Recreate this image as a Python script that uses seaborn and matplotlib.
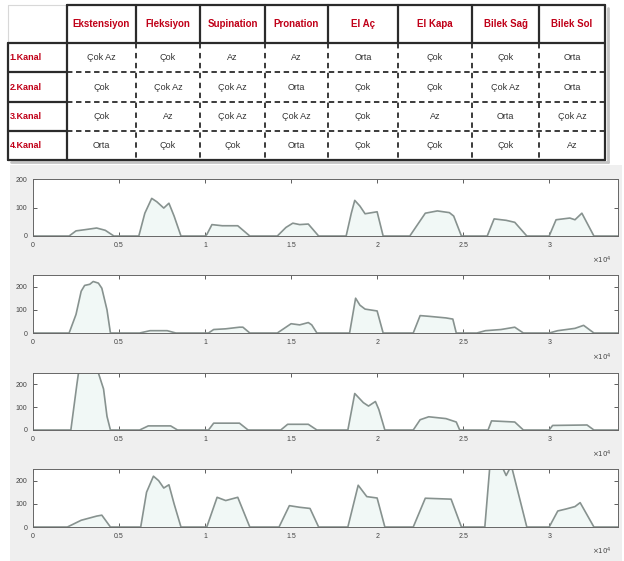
import numpy as np
import pandas as pd
import seaborn as sns
import matplotlib.pyplot as plt
from matplotlib.patches import Rectangle

# ---- table contents ----
movements = ["Ekstensiyon", "Fleksiyon", "Supination", "Pronation",
             "El Aç", "El Kapa", "Bilek Sağ", "Bilek Sol"]
channels = ["1.Kanal", "2.Kanal", "3.Kanal", "4.Kanal"]
levels_ch1 = ["Çok Az", "Çok", "Az", "Az", "Orta", "Çok", "Çok", "Orta"]
levels_ch2 = ["Çok", "Çok Az", "Çok Az", "Orta", "Çok", "Çok", "Çok Az", "Orta"]
levels_ch3 = ["Çok", "Az", "Çok Az", "Çok Az", "Çok", "Az", "Orta", "Çok Az"]
levels_ch4 = ["Orta", "Çok", "Çok", "Orta", "Çok", "Çok", "Çok", "Az"]

# ---- signal envelopes (time in units of 1e4 samples) ----
t_ch1 = [0, 0.21, 0.25, 0.30, 0.37, 0.42, 0.47,
         0.615, 0.65, 0.69, 0.72, 0.76, 0.79, 0.82, 0.86,
         1.0, 1.01, 1.04, 1.10, 1.19, 1.26,
         1.42, 1.47, 1.51, 1.55, 1.60, 1.66,
         1.82, 1.85, 1.87, 1.90, 1.93, 2.0, 2.035,
         2.19, 2.28, 2.35, 2.42, 2.445, 2.49,
         2.64, 2.68, 2.75, 2.80, 2.87,
         3.0, 3.04, 3.12, 3.15, 3.19, 3.26, 3.4]
v_ch1 = [0, 0, 18, 22, 28, 20, 0,
         0, 80, 132, 120, 98, 115, 70, 0,
         0, 5, 40, 36, 36, 0,
         0, 30, 45, 40, 42, 0,
         0, 80, 125, 105, 78, 85, 0,
         0, 80, 88, 82, 70, 0,
         0, 60, 55, 48, 0,
         0, 57, 63, 57, 80, 0, 0]

t_ch2 = [0, 0.21, 0.25, 0.28, 0.30, 0.33, 0.35, 0.38, 0.40, 0.43, 0.45,
         0.62, 0.68, 0.78, 0.83,
         1.02, 1.05, 1.12, 1.20, 1.22, 1.26,
         1.42, 1.47, 1.50, 1.55, 1.60, 1.62, 1.65,
         1.84, 1.875, 1.90, 1.93, 2.0, 2.035,
         2.21, 2.25, 2.30, 2.40, 2.44, 2.46,
         2.58, 2.63, 2.72, 2.80, 2.85,
         3.0, 3.05, 3.15, 3.20, 3.26, 3.4]
v_ch2 = [0, 0, 80, 180, 205, 210, 222, 215, 193, 100, 0,
         0, 10, 10, 0,
         0, 15, 18, 25, 25, 0,
         0, 25, 40, 35, 45, 35, 0,
         0, 150, 120, 103, 95, 0,
         0, 75, 72, 65, 60, 0,
         0, 10, 15, 25, 0,
         0, 10, 20, 33, 0, 0]

t_ch3 = [0, 0.22, 0.255, 0.27, 0.37, 0.38, 0.41, 0.43, 0.45,
         0.62, 0.67, 0.80, 0.84,
         1.02, 1.05, 1.20, 1.25,
         1.44, 1.48, 1.60, 1.65,
         1.83, 1.87, 1.92, 1.95, 1.99, 2.01, 2.045,
         2.21, 2.25, 2.30, 2.40, 2.46, 2.48,
         2.645, 2.665, 2.80, 2.85,
         3.0, 3.02, 3.22, 3.26, 3.4]
v_ch3 = [0, 0, 200, 280, 280, 250, 180, 60, 0,
         0, 18, 18, 0,
         0, 30, 30, 0,
         0, 25, 25, 0,
         0, 160, 120, 105, 125, 90, 0,
         0, 45, 58, 50, 35, 0,
         0, 40, 35, 0,
         0, 20, 22, 0, 0]

t_ch4 = [0, 0.20, 0.28, 0.37, 0.40, 0.45,
         0.626, 0.66, 0.70, 0.73, 0.76, 0.79, 0.82, 0.86,
         1.01, 1.07, 1.12, 1.19, 1.26,
         1.43, 1.49, 1.55, 1.61, 1.66,
         1.83, 1.89, 1.94, 2.0, 2.045,
         2.21, 2.28, 2.43, 2.49,
         2.626, 2.655, 2.72, 2.75, 2.78, 2.87,
         3.0, 3.05, 3.10, 3.15, 3.18, 3.26, 3.4]
v_ch4 = [0, 0, 29, 47, 51, 0,
         0, 150, 219, 200, 168, 182, 100, 0,
         0, 128, 114, 128, 0,
         0, 92, 85, 80, 0,
         0, 180, 131, 125, 0,
         0, 124, 120, 0,
         0, 260, 270, 222, 265, 0,
         0, 69, 78, 88, 105, 0, 0]

ylims = [200, 250, 250, 250]
x_tick_labels = ["0", "0.5", "1", "1.5", "2", "2.5", "3"]
y_ticks = [0, 100, 200]

sns.set_style("ticks")
plt.rcParams['font.family'] = ['Liberation Sans', 'DejaVu Sans']

W, H = 624, 561
fig = plt.figure(figsize=(W / 100, H / 100), dpi=100, facecolor="white")

# background canvas in pixel coordinates
bg = fig.add_axes([0, 0, 1, 1])
bg.set_xlim(0, W)
bg.set_ylim(H, 0)
bg.axis("off")
bg.add_patch(Rectangle((10, 165), 612, 396, color="#efefef", lw=0))

# ---- table ----
col_edges = [8, 67, 136, 200, 265, 328, 398, 472, 539, 605]
row_edges = [5, 43, 72, 102, 131, 160]
dark = "#2b2b2b"
red = "#c00018"
thick = 1.6
# shadow
bg.plot([col_edges[0] + 3, col_edges[-1] + 3], [row_edges[-1] + 2] * 2, color="#c4c4c4", lw=2)
bg.plot([col_edges[-1] + 2.5] * 2, [row_edges[0] + 3, row_edges[-1] + 2], color="#c4c4c4", lw=2)
# faint top-left cell
bg.plot([col_edges[0], col_edges[1]], [row_edges[0]] * 2, color="#d8d8d8", lw=0.8)
bg.plot([col_edges[0]] * 2, [row_edges[0], row_edges[1]], color="#d8d8d8", lw=0.8)
# outer frame
bg.plot([col_edges[1], col_edges[-1]], [row_edges[0]] * 2, color=dark, lw=thick)
bg.plot([col_edges[-1]] * 2, [row_edges[0], row_edges[-1]], color=dark, lw=thick)
bg.plot([col_edges[0], col_edges[-1]], [row_edges[-1]] * 2, color=dark, lw=thick)
bg.plot([col_edges[0]] * 2, [row_edges[1], row_edges[-1]], color=dark, lw=thick)
bg.plot([col_edges[0], col_edges[-1]], [row_edges[1]] * 2, color=dark, lw=thick)
# vertical lines
for i, x in enumerate(col_edges[1:-1]):
    bg.plot([x, x], [row_edges[0], row_edges[1]], color=dark, lw=thick)
    if i == 0:
        bg.plot([x, x], [row_edges[1], row_edges[-1]], color=dark, lw=thick)
    else:
        bg.plot([x, x], [row_edges[1], row_edges[-1]], color=dark, lw=1.3,
                linestyle=(0, (3, 2.5)))
# horizontal body lines
for y in row_edges[2:-1]:
    bg.plot([col_edges[0], col_edges[1]], [y, y], color=dark, lw=thick)
    bg.plot([col_edges[1], col_edges[-1]], [y, y], color=dark, lw=1.3,
            linestyle=(0, (3, 2)))

for j, name in enumerate(movements):
    xc = (col_edges[j + 1] + col_edges[j + 2]) / 2
    yc = (row_edges[0] + row_edges[1]) / 2
    bg.text(xc, yc, name, color=red, fontsize=7, fontweight="bold",
            ha="center", va="center")

table_rows = [levels_ch1, levels_ch2, levels_ch3, levels_ch4]
for i, (ch, levels) in enumerate(zip(channels, table_rows)):
    yc = (row_edges[i + 1] + row_edges[i + 2]) / 2
    bg.text(col_edges[0] + 1.5, yc, ch, color=red, fontsize=6.5, fontweight="bold",
            ha="left", va="center")
    for j, lv in enumerate(levels):
        xc = (col_edges[j + 1] + col_edges[j + 2]) / 2
        bg.text(xc, yc, lv, color="#333333", fontsize=6.5, ha="center", va="center")

# ---- signal subplots ----
series = [(t_ch1, v_ch1), (t_ch2, v_ch2), (t_ch3, v_ch3), (t_ch4, v_ch4)]
ax_tops = [179, 275, 373, 469]
ax_bottoms = [236, 333, 430, 527]
left_px, right_px = 33, 618
line_col = "#87928f"

for (t, v), top, bot, ymax in zip(series, ax_tops, ax_bottoms, ylims):
    ax = fig.add_axes([left_px / W, 1 - bot / H, (right_px - left_px) / W, (bot - top) / H])
    ax.set_facecolor("white")
    df = pd.DataFrame({"sample": np.array(t) * 1e4, "amp": v})
    ax.fill_between(df["sample"], 0, df["amp"], color="#f1f8f6", lw=0)
    sns.lineplot(data=df, x="sample", y="amp", ax=ax, color=line_col, lw=1.2,
                 estimator=None, sort=False)
    ax.set_xlim(0, 34000)
    ax.set_ylim(0, ymax)
    ax.set_xticks(np.arange(len(x_tick_labels)) * 5000)
    ax.set_xticklabels(x_tick_labels)
    ax.set_yticks(y_ticks)
    ax.set_xlabel("")
    ax.set_ylabel("")
    ax.tick_params(direction="in", top=True, right=True, length=3, width=0.6,
                   labelsize=5, colors="#444444", pad=4)
    for sp in ax.spines.values():
        sp.set_color("#666666")
        sp.set_linewidth(0.7)
    ax.text(0.99, -0.32, r"$\times10^4$", transform=ax.transAxes, fontsize=5,
            color="#444444", ha="right", va="top")

fig.savefig("out.png", dpi=100, facecolor="white")
